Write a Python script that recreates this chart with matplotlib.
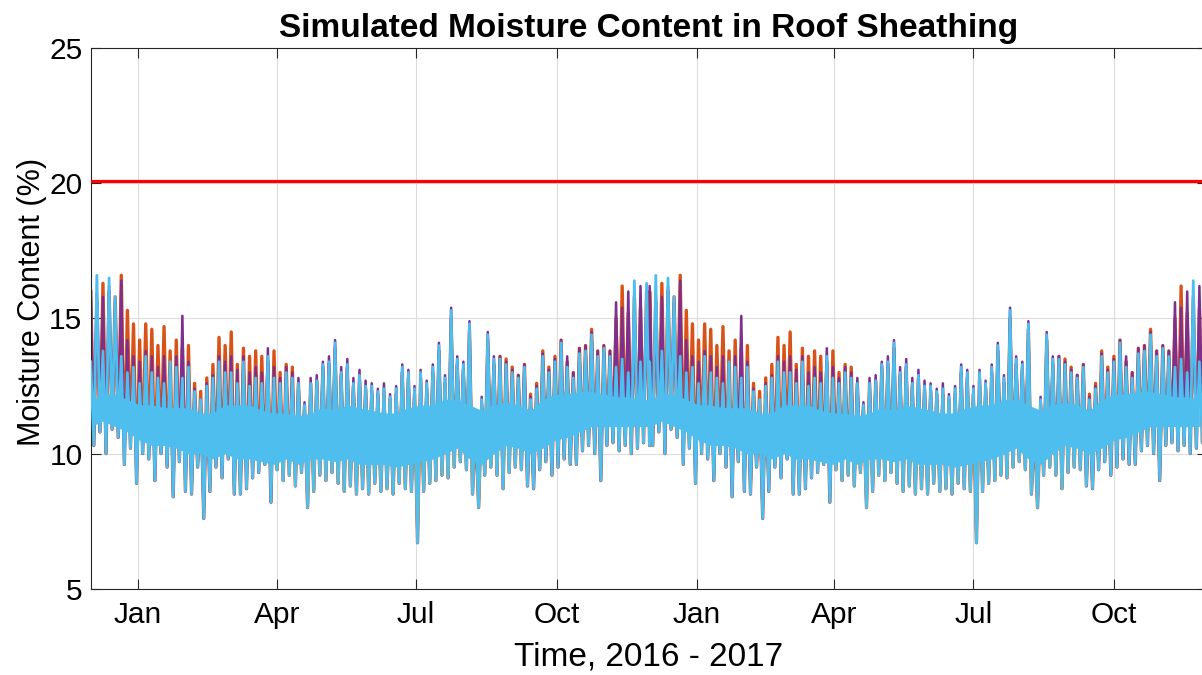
import numpy as np
import matplotlib.pyplot as plt
import matplotlib.dates as mdates

# -----------------------------
# Data: one simulated year (Dec 1 -> Nov 30),
# sampled every 4 days. The second year repeats the same weather year.
# hi values sit on day 4k, lo values on day 4k+2.
# -----------------------------
mc_hi = [13.4, 16.6, 13.8, 16.5, 15.8, 13.6, 13.0, 13.2, 12.6, 13.6, 13.0, 12.8, 12.6, 13.4, 13.2, 12.8, 13.2, 12.3, 12.0, 12.5, 12.8, 13.4, 13.0,
         13.0, 12.6, 13.4, 12.5, 12.8, 12.6, 13.6, 12.8, 12.6, 13.0, 12.8, 12.6, 11.8, 12.6, 12.7, 13.3, 13.4, 14.1, 13.0, 13.3, 12.6, 12.9, 12.5,
         12.5, 12.3, 12.4, 12.1, 12.4, 13.2, 13.0, 12.4, 13.0, 12.6, 13.2, 14.0, 12.8, 15.3, 13.5, 13.3, 14.8, 11.2, 12.0, 14.4, 13.5, 13.5, 13.3,
         13.0, 12.8, 13.2, 12.0, 12.4, 13.6, 13.0, 13.4, 14.1, 13.2, 12.8, 13.7, 13.8, 14.4, 13.6, 13.9, 13.6, 13.2, 13.5, 13.0, 16.4, 13.4, 16.3]
mc_lo = [10.3, 10.8, 10.0, 10.9, 10.6, 9.6, 10.2, 8.9, 10.0, 9.8, 9.0, 10.0, 9.5, 8.4, 9.7, 8.6, 8.5, 9.5, 7.6, 8.6, 9.5, 9.1, 9.8,
         8.5, 8.5, 8.7, 9.1, 9.3, 9.6, 8.2, 9.4, 9.0, 9.2, 8.8, 9.3, 8.0, 8.6, 9.2, 9.0, 9.3, 8.9, 8.6, 8.8, 8.5, 8.7, 8.5,
         8.9, 8.6, 8.7, 8.5, 8.9, 8.7, 8.6, 6.7, 8.6, 8.9, 9.0, 9.2, 9.1, 9.5, 9.7, 9.4, 8.5, 8.0, 9.2, 9.5, 9.2, 8.7, 9.3,
         9.5, 9.4, 8.8, 8.7, 9.4, 9.7, 9.2, 9.5, 9.8, 9.6, 9.6, 10.1, 10.3, 10.0, 9.0, 10.3, 10.4, 10.1, 10.3, 10.0, 10.2, 10.4, 10.3]
orange_hi = [16.0, 15.6, 16.3, 16.0, 15.8, 16.6, 15.3, 14.8, 14.2, 14.8, 14.6, 14.0, 14.7, 13.8, 14.2, 13.9, 14.0, 12.6, 12.3, 12.8, 13.3, 14.3, 14.0,
             14.5, 13.3, 13.9, 13.6, 13.8, 13.6, 13.4, 13.8, 13.0, 13.3, 13.2, 12.6, 11.8, 12.6, 12.7, 13.2, 13.3, 13.9, 12.9, 13.2, 12.5, 12.8, 12.4,
             12.3, 12.2, 12.2, 12.0, 12.2, 13.0, 12.8, 12.2, 12.8, 12.4, 13.0, 13.8, 12.6, 15.0, 13.3, 13.1, 14.6, 11.0, 11.8, 14.2, 13.3, 13.6, 13.5,
             13.2, 12.9, 13.3, 12.2, 12.6, 13.8, 13.2, 13.6, 14.2, 13.4, 13.0, 13.9, 14.0, 14.6, 13.8, 14.0, 13.8, 15.0, 16.2, 15.2, 15.8, 15.4, 16.0]
purple_hi = [16.2, 15.9, 15.8, 16.2, 15.6, 16.4, 14.2, 13.6, 13.4, 13.8, 13.6, 13.2, 13.6, 13.2, 13.6, 15.1, 13.4, 12.4, 12.0, 12.6, 12.9, 13.6, 13.4,
             13.6, 13.1, 13.6, 13.0, 13.2, 13.0, 13.9, 13.2, 12.8, 13.2, 13.0, 12.8, 11.9, 12.8, 12.9, 13.4, 13.6, 14.2, 13.2, 13.5, 12.8, 13.1, 12.7,
             12.6, 12.4, 12.6, 12.2, 12.5, 13.3, 13.1, 12.5, 13.1, 12.7, 13.3, 14.1, 12.9, 15.4, 13.6, 13.4, 14.9, 11.3, 12.1, 14.5, 13.6, 13.6, 13.4,
             13.1, 12.9, 13.3, 12.1, 12.5, 13.7, 13.1, 13.5, 14.2, 13.6, 13.0, 13.9, 14.0, 14.5, 13.8, 14.0, 13.8, 15.6, 15.4, 16.0, 15.6, 16.2, 15.8]
# yellow shows only in the warm months (samples 30..70)
yellow_first = 30
yellow_hi = [12.4, 12.2, 12.5, 12.3, 12.2, 11.6, 12.2, 12.4, 12.8, 12.9, 13.0, 12.6, 12.8, 12.3, 12.5, 12.2, 12.2, 12.0, 12.3, 12.0, 12.2,
             12.8, 12.6, 12.2, 12.6, 12.3, 12.8, 13.2, 12.5, 13.5, 12.8, 12.6, 13.4, 11.2, 11.8, 13.2, 12.5, 12.8, 12.6, 12.6, 12.4]
# solid core of the band, every 8 days
core_hi = [12.0, 12.2, 12.2, 12.0, 11.8, 11.8, 11.7, 11.7, 11.7, 11.5, 11.5, 11.8, 11.8, 11.8, 11.6, 11.5, 11.5, 11.4, 11.5, 11.7, 11.6, 11.8, 11.7,
           11.6, 11.5, 11.5, 11.7, 11.8, 11.8, 12.0, 12.0, 11.8, 11.6, 11.8, 11.9, 11.8, 11.6, 12.0, 12.2, 12.2, 12.3, 12.3, 12.2, 12.1, 12.1, 12.0]
core_lo = [11.0, 11.2, 11.0, 10.8, 10.5, 10.3, 10.3, 10.2, 10.0, 10.0, 9.8, 10.0, 9.8, 9.8, 9.7, 9.6, 9.8, 9.6, 9.8, 9.8, 9.7, 9.8, 9.6,
           9.6, 9.6, 9.5, 9.6, 9.7, 9.8, 10.0, 10.2, 9.8, 9.6, 10.0, 10.3, 10.2, 10.0, 10.2, 10.5, 10.6, 10.8, 11.0, 11.0, 11.0, 11.0, 11.0]
limit_mc = 20.1

start = np.datetime64('2015-12-01T00', 'h')
year_shift = [0, 366]          # days to the start of each repeated year
day = np.timedelta64(24, 'h')

LBLUE = '#4DBEEE'
ORANGE = '#D95319'
YELLOW = '#EDB120'
PURPLE = '#7E2F8E'


def times(first_day, step, n):
    base = np.arange(n) * step + first_day
    return np.concatenate([start + (base + s) * day for s in year_shift])


def zigzag(hi, lo, t_hi, t_lo):
    t = np.empty(2 * len(hi), dtype='datetime64[h]')
    v = np.empty(2 * len(hi))
    t[0::2], t[1::2] = t_hi, t_lo
    v[0::2], v[1::2] = hi, lo
    return t, v


n = len(mc_hi)
t_hi = times(0, 4, n)
t_lo = times(2, 4, n)
hi2 = np.tile(mc_hi, 2)
lo2 = np.tile(mc_lo, 2)

plt.rcParams['font.family'] = ['Liberation Sans', 'DejaVu Sans']
fig = plt.figure(figsize=(12.02, 6.75), dpi=100)
ax = fig.add_axes([0.0755, 0.1279, 0.9287, 0.8005])

# other cases, mostly hidden behind the last (light blue) one
t, v = zigzag(np.tile(orange_hi, 2), lo2, t_hi, t_lo)
ax.plot(t, v, color=ORANGE, lw=2.4, zorder=2)
t, v = zigzag(np.tile(purple_hi, 2), lo2, t_hi, t_lo)
ax.plot(t, v, color=PURPLE, lw=1.8, zorder=2.1)
m = len(yellow_hi)
for s in range(2):
    sl = slice(s * n + yellow_first, s * n + yellow_first + m)
    t, v = zigzag(yellow_hi, lo2[sl], t_hi[sl], t_lo[sl])
    ax.plot(t, v, color=YELLOW, lw=1.8, zorder=2.2)

t_core = times(0, 8, len(core_hi))
ax.fill_between(t_core, np.tile(core_lo, 2), np.tile(core_hi, 2), color=LBLUE, lw=0, zorder=2.5)
t, v = zigzag(hi2, lo2, t_hi, t_lo)
ax.plot(t, v, color=LBLUE, lw=2.0, zorder=3)

ax.axhline(limit_mc, color='red', lw=2.3, zorder=4)

ax.set_xlim(np.datetime64('2015-12-01'), np.datetime64('2017-12-01'))
ax.set_ylim(5, 25)
ax.set_yticks([5, 10, 15, 20, 25])
ax.xaxis.set_major_locator(mdates.MonthLocator(bymonth=[1, 4, 7, 10]))
ax.xaxis.set_major_formatter(mdates.DateFormatter('%b'))

ax.grid(True, color='#dcdcdc', lw=0.8)
ax.set_axisbelow(True)
for sp in ax.spines.values():
    sp.set_color('#262626')
    sp.set_linewidth(0.8)
ax.tick_params(axis='both', direction='in', length=7, width=0.8, color='#262626',
               top=True, right=True, labelsize=21.5)
ax.tick_params(axis='x', pad=9)
ax.tick_params(axis='y', pad=6)

ax.set_title('Simulated Moisture Content in Roof Sheathing', fontsize=24,
             fontweight='bold', pad=8)
ax.set_xlabel('Time, 2016 - 2017', fontsize=24, va='center')
ax.xaxis.set_label_coords(0.5, -0.126)
ax.set_ylabel('Moisture Content (%)', fontsize=22, va='center')
ax.yaxis.set_label_coords(-0.053, 0.53)

fig.savefig('out.png', dpi=100)
